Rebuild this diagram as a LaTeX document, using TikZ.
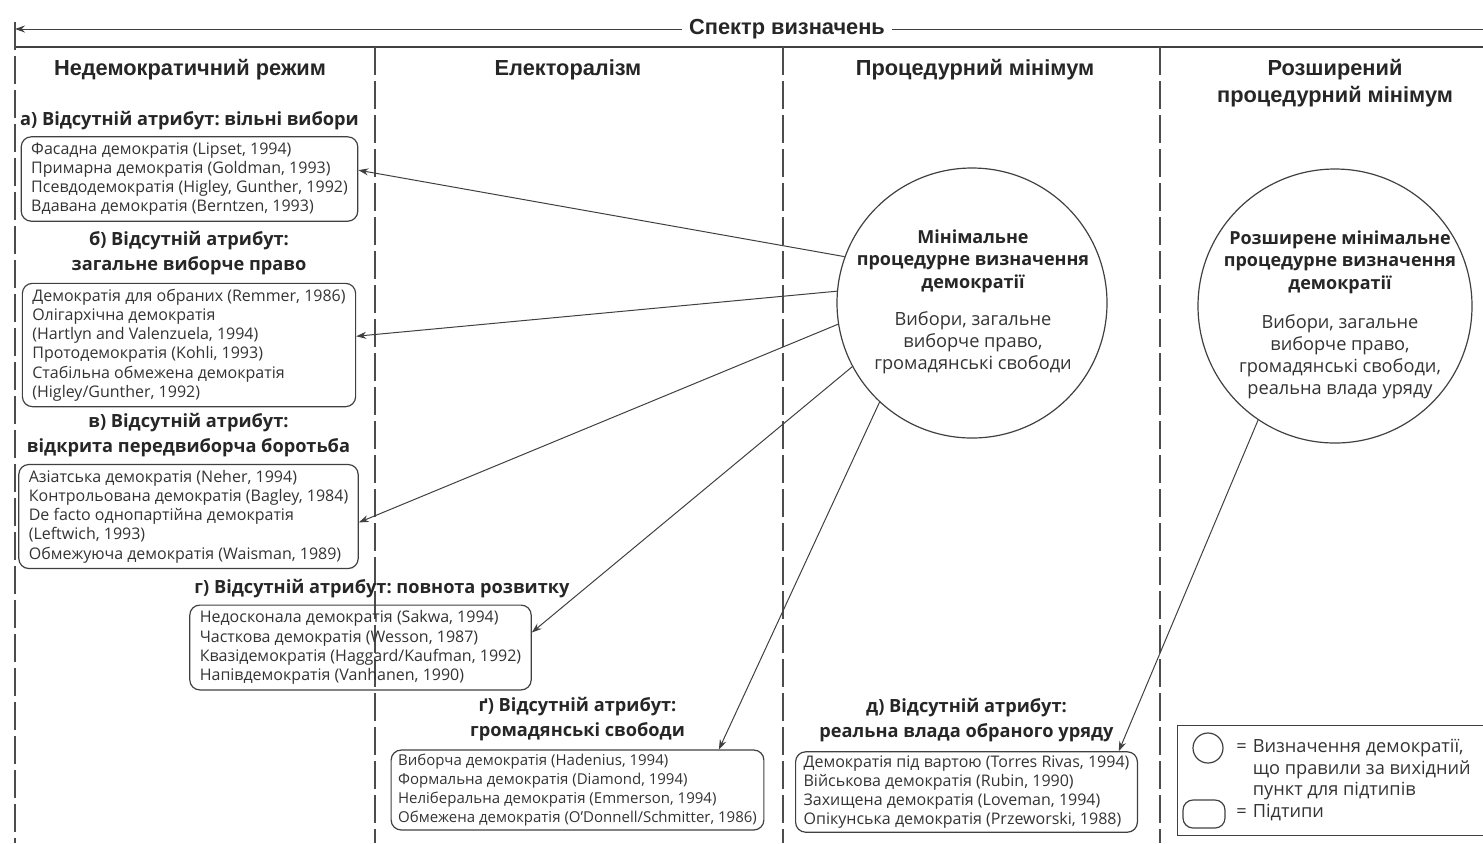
\documentclass[tikz,border=0pt]{standalone}
\usepackage{fontspec}
\setmainfont{Open Sans}
\newfontfamily\headfont{Liberation Sans}
\usepackage{xcolor}
\usetikzlibrary{positioning, arrows.meta}
\frenchspacing

\begin{document}
\begin{tikzpicture}[
    x=0.5pt, y=-0.5pt,
    >={Stealth[length=5pt, width=3.5pt]},
    font=\fontsize{8}{9.6}\selectfont,
    colhead/.style={font=\headfont\bfseries\fontsize{10.9}{13.5}\selectfont, align=center, text=black!85},
    attr/.style={font=\bfseries\fontsize{9.1}{12.5}\selectfont, align=center, inner sep=0pt, text=black!85},
    subbox/.style={draw=black!75, rectangle, rounded corners=5pt, align=left, inner xsep=5pt, inner ysep=2.8pt, line width=0.6pt, text=black!80},
    defcircle/.style={draw=black!75, circle, line width=0.6pt, inner sep=0pt},
    circhead/.style={font=\bfseries\fontsize{9}{11.25}\selectfont, align=center, inner sep=0pt, text=black!85},
    circtext/.style={font=\fontsize{9.1}{11}\selectfont, align=center, inner sep=0pt, text=black!80},
    sep/.style={draw=black!70, line width=0.6pt, dash pattern=on 14pt off 3pt},
    arrow/.style={->, draw=black!75, line width=0.5pt}
]
\useasboundingbox (0,0) rectangle (1483,843);

% Frame
\coordinate (specl) at (15,29);
\coordinate (specr) at (1483,29);
\draw[arrow] (specr) -- (specl);
\node[colhead, fill=white] (spectrum) at (787,29) {Спектр визначень};
\draw[draw=black!75, line width=0.7pt] (15,47) -- (1483,47);
\draw[sep] (15,22) -- (15,843);
\foreach \x in {375,783,1160}
    \draw[sep] (\x,47) -- (\x,843);

% Column heads
\node[colhead] (hnondem) at (190,70) {Недемократичний режим};
\node[colhead] (helect) at (568,70) {Електоралізм};
\node[colhead] (hproc) at (975,70) {Процедурний мінімум};
\node[colhead] (hext) at (1335,83.5) {Розширений\\процедурний мінімум};

% Subtypes
\node[subbox] (boxa) at (189.5,179) {Фасадна демократія (Lipset, 1994)\\Примарна демократія (Goldman, 1993)\\Псевдодемократія (Higley, Gunther, 1992)\\Вдавана демократія (Berntzen, 1993)};
\node[attr, above=3pt of boxa] (attra) {а) Відсутній атрибут: вільні вибори};

\node[subbox] (boxb) at (189,345) {Демократія для обраних (Remmer, 1986)\\Олігархічна демократія\\(Hartlyn and Valenzuela, 1994)\\Протодемократія (Kohli, 1993)\\Стабільна обмежена демократія\\(Higley/Gunther, 1992)};
\node[attr, above=3.5pt of boxb] (attrb) {б) Відсутній атрибут:\\загальне виборче право};

\node[subbox] (boxc) at (188.5,516.5) {Азіатська демократія (Neher, 1994)\\Контрольована демократія (Bagley, 1984)\\De facto однопартійна демократія\\(Leftwich, 1993)\\Обмежуюча демократія (Waisman, 1989)};
\node[attr, above=3.5pt of boxc] (attrc) {в) Відсутній атрибут:\\відкрита передвиборча боротьба};

\node[subbox] (boxg) at (360.5,647.5) {Недосконала демократія (Sakwa, 1994)\\Часткова демократія (Wesson, 1987)\\Квазідемократія (Haggard/Kaufman, 1992)\\Напівдемократія (Vanhanen, 1990)};
\node[attr, above=3pt of boxg, xshift=10.75pt] (attrg) {г) Відсутній атрибут: повнота розвитку};

\node[subbox, inner ysep=1.8pt, inner xsep=3.5pt, font=\fontsize{7.5}{9.6}\selectfont] (boxgg) at (577.5,790) {Виборча демократія (Hadenius, 1994)\\Формальна демократія (Diamond, 1994)\\Неліберальна демократія (Emmerson, 1994)\\Обмежена демократія (O’Donnell/Schmitter, 1986)};
\node[attr, above=4pt of boxgg] (attrgg) {ґ) Відсутній атрибут:\\громадянські свободи};

\node[subbox, inner ysep=1.8pt, inner xsep=4pt] (boxd) at (966.5,792) {Демократія під вартою (Torres Rivas, 1994)\\Військова демократія (Rubin, 1990)\\Захищена демократія (Loveman, 1994)\\Опікунська демократія (Przeworski, 1988)};
\node[attr, above=4.5pt of boxd] (attrd) {д) Відсутній атрибут:\\реальна влада обраного уряду};

% Definitions
\node[defcircle, minimum size=135pt] (mincirc) at (972,303) {};
\node[circhead] (minhead) at (973,261) {Мінімальне\\процедурне визначення\\демократії};
\node[circtext] (mintext) at (973,343) {Вибори, загальне\\виборче право,\\громадянські свободи};

\node[defcircle, minimum size=137pt] (extcirc) at (1335,306) {};
\node[circhead] (exthead) at (1340,262) {Розширене мінімальне\\процедурне визначення\\демократії};
\node[circtext] (exttext) at (1340,357) {Вибори, загальне\\виборче право,\\громадянські свободи,\\реальна влада уряду};

% Legend
\node[draw=black!75, line width=0.6pt, minimum width=155.5pt, minimum height=55pt, anchor=north west] (legend) at (1177,725) {};
\node[defcircle, minimum size=15pt] (legcirc) at (1208,748) {};
\node[subbox, minimum width=21pt, minimum height=14pt, inner sep=0pt] (legbox) at (1204,814) {};
\node[anchor=west, inner sep=0pt, text=black!80, font=\fontsize{9.1}{10.8}\selectfont] (legtext) at (1236,780.5) {%
    \begin{tabular}{@{}l@{\hspace{3pt}}l@{}}
    = & Визначення демократії,\\
      & що правили за вихідний\\
      & пункт для підтипів\\
    = & Підтипи
    \end{tabular}};

% Edges
\draw[arrow] (mincirc.160) -- (boxa.3);
\draw[arrow] (mincirc.175) -- (boxb.3);
\draw[arrow] (mincirc.189) -- (boxc.-2);
\draw[arrow] (mincirc.208) -- (boxg.5);
\draw[arrow] (mincirc.227) -- (boxgg.16);
\draw[arrow] (extcirc.236) -- (boxd.15);
\end{tikzpicture}
\end{document}
